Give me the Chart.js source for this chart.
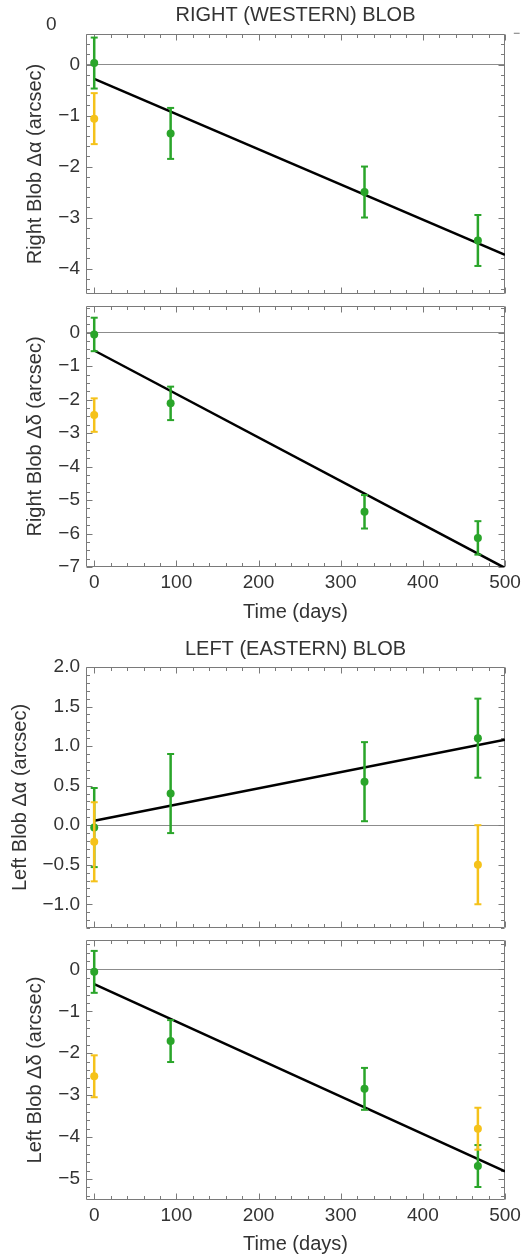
<!DOCTYPE html>
<html>
<head>
<meta charset="utf-8">
<script src="https://cdn.jsdelivr.net/npm/chart.js@4"></script>
<style>
  html, body { margin: 0; padding: 0; background: #fff; }
  #wrap { position: relative; width: 527px; height: 1258px; overflow: hidden; }
  canvas { position: absolute; left: 0; }
  .stray { position: absolute; font-family: "Liberation Sans", Arial, sans-serif; color: #333; }
</style>
</head>
<body>
<div id="wrap">
  <canvas id="c1" width="527" height="300" style="top:0px"></canvas>
  <canvas id="c2" width="527" height="330" style="top:300px"></canvas>
  <canvas id="c3" width="527" height="304" style="top:630px"></canvas>
  <canvas id="c4" width="527" height="324" style="top:934px"></canvas>
  <span class="stray" style="left:46px;top:13px;font-size:19px;">0</span>
  <span class="stray" style="left:513px;top:26px;font-size:12px;color:#666;">−</span>
</div>
<script>
// ---------------- data ----------------
const greenDays  = [0, 93, 329, 467];
const yellowDaysRight = [0];
const yellowDaysLeft  = [0, 467];
const fitDays = [0, 500];
const xTickValues = [0, 100, 200, 300, 400, 500];

// Right (western) blob, Δα
const rightAlphaGreen = [0.03, -1.35, -2.50, -3.45];
const rightAlphaGreenErr = [0.5, 0.5, 0.5, 0.5];
const rightAlphaYellow = [-1.06];
const rightAlphaYellowErr = [0.5];
const rightAlphaFit = [-0.28, -3.73];
const rightAlphaTicks = [0, -1, -2, -3, -4];

// Right (western) blob, Δδ
const rightDeltaGreen = [-0.05, -2.11, -5.35, -6.13];
const rightDeltaGreenErr = [0.5, 0.5, 0.5, 0.5];
const rightDeltaYellow = [-2.46];
const rightDeltaYellowErr = [0.5];
const rightDeltaFit = [-0.53, -7.03];
const rightDeltaTicks = [0, -1, -2, -3, -4, -5, -6, -7];

// Left (eastern) blob, Δα
const leftAlphaGreen = [-0.03, 0.40, 0.55, 1.10];
const leftAlphaGreenErr = [0.5, 0.5, 0.5, 0.5];
const leftAlphaYellow = [-0.21, -0.50];
const leftAlphaYellowErr = [0.5, 0.5];
const leftAlphaFit = [0.055, 1.08];
const leftAlphaTicks = [2.0, 1.5, 1.0, 0.5, 0.0, -0.5, -1.0];

// Left (eastern) blob, Δδ
const leftDeltaGreen = [-0.06, -1.71, -2.85, -4.69];
const leftDeltaGreenErr = [0.5, 0.5, 0.5, 0.5];
const leftDeltaYellow = [-2.55, -3.80];
const leftDeltaYellowErr = [0.5, 0.5];
const leftDeltaFit = [-0.35, -4.82];
const leftDeltaTicks = [0, -1, -2, -3, -4, -5];

// ---------------- style ----------------
const GREEN = '#2aa52a';
const YELLOW = '#f5c21a';
const TEXT = '#333333';
const FRAME = '#7a7a7a';
const FONT = '"Liberation Sans", Arial, Helvetica, sans-serif';

function pts(xs, ys) { return xs.map((x, i) => ({ x: x, y: ys[i] })); }
function errPts(xs, ys, es) {
  const out = [];
  xs.forEach((x, i) => {
    out.push({ x: x, y: ys[i] - es[i] });
    out.push({ x: x, y: ys[i] + es[i] });
    out.push({ x: x, y: null });
  });
  return out;
}
function fmt(decimals) {
  return v => (decimals ? Number(v).toFixed(decimals) : String(Math.round(v))).replace('-', '\u2212');
}

const frameTicks = {
  id: 'frameTicks',
  beforeDatasetsDraw(chart, args, o) {
    const { ctx, chartArea: a, scales: { x, y } } = chart;
    ctx.save();
    ctx.strokeStyle = FRAME;
    ctx.lineWidth = 1;
    const L = Math.round(a.left) + 0.5, R = Math.round(a.right) - 0.5;
    const T = Math.round(a.top) + 0.5, B = Math.round(a.bottom) - 0.5;
    const xt = (v, len) => {
      const p = Math.round(x.getPixelForValue(v)) + 0.5;
      ctx.moveTo(p, B); ctx.lineTo(p, B - len);
      ctx.moveTo(p, T); ctx.lineTo(p, T + len);
    };
    const yt = (v, len) => {
      const p = Math.round(y.getPixelForValue(v)) + 0.5;
      ctx.moveTo(L, p); ctx.lineTo(L + len, p);
      ctx.moveTo(R, p); ctx.lineTo(R - len, p);
    };
    ctx.beginPath();
    const m0 = Math.ceil(x.min / o.xMinor - 1e-6), m1 = Math.floor(x.max / o.xMinor + 1e-6);
    for (let k = m0; k <= m1; k++) {
      const v = k * o.xMinor;
      const isMajor = Math.abs(v / o.xMajor - Math.round(v / o.xMajor)) < 1e-6;
      xt(v, isMajor ? 6 : 3.5);
    }
    const n0 = Math.ceil(y.min / o.yMinor - 1e-6), n1 = Math.floor(y.max / o.yMinor + 1e-6);
    for (let k = n0; k <= n1; k++) {
      const v = k * o.yMinor;
      const isMajor = Math.abs(v / o.yMajor - Math.round(v / o.yMajor)) < 1e-6;
      yt(v, isMajor ? 6 : 3.5);
    }
    ctx.stroke();
    ctx.beginPath();
    ctx.rect(L, T, R - L, B - T);
    ctx.stroke();
    ctx.restore();
  }
};

function makeChart(id, c) {
  const datasets = [
    { label: 'yellow', data: pts(c.yDays, c.yVals), pointRadius: 4, pointBackgroundColor: YELLOW, pointBorderWidth: 0, showLine: false, order: 1 },
    { label: 'yellowErr', data: errPts(c.yDays, c.yVals, c.yErr), showLine: true, borderColor: YELLOW, borderWidth: 2.5, pointStyle: 'line', pointRadius: 3.5, pointBorderColor: YELLOW, pointBorderWidth: 2, spanGaps: false, order: 2 },
    { label: 'green', data: pts(greenDays, c.gVals), pointRadius: 4, pointBackgroundColor: GREEN, pointBorderWidth: 0, showLine: false, order: 3 },
    { label: 'greenErr', data: errPts(greenDays, c.gVals, c.gErr), showLine: true, borderColor: GREEN, borderWidth: 2.5, pointStyle: 'line', pointRadius: 3.5, pointBorderColor: GREEN, pointBorderWidth: 2, spanGaps: false, order: 4 },
    { label: 'fit', data: pts(fitDays, c.fit), showLine: true, borderColor: '#000', borderWidth: 2.5, pointRadius: 0, order: 5 }
  ];
  const plugins = {
    legend: { display: false },
    tooltip: { enabled: false },
    frameTicks: { xMajor: 100, xMinor: 20, yMajor: c.yMajor, yMinor: c.yMinor },
    title: c.title ? {
      display: true, text: c.title, fullSize: false, color: TEXT,
      font: { family: FONT, size: 20, weight: 'normal' },
      padding: { top: c.titlePad[0], bottom: c.titlePad[1] }
    } : { display: false }
  };
  return new Chart(document.getElementById(id), {
    type: 'scatter',
    data: { datasets: datasets },
    plugins: [frameTicks],
    options: {
      responsive: false,
      animation: false,
      devicePixelRatio: 1,
      events: [],
      layout: { padding: { left: 0, right: 22, top: c.padTop, bottom: 0 } },
      plugins: plugins,
      scales: {
        x: {
          type: 'linear', min: -10, max: 500,
          afterBuildTicks: s => { s.ticks = xTickValues.map(v => ({ value: v })); },
          ticks: { display: c.showX, padding: 4, color: TEXT, font: { family: FONT, size: 19 }, callback: fmt(0), maxRotation: 0, autoSkip: false },
          grid: { display: false, drawTicks: false },
          border: { display: false },
          title: { display: c.showX, text: 'Time (days)', color: TEXT, font: { family: FONT, size: 20 }, padding: { top: 0, bottom: c.xTitlePad } },
          afterFit: s => { s.height = c.xHeight; s.paddingLeft = 0; s.paddingRight = 0; }
        },
        y: {
          type: 'linear', min: c.yMin, max: c.yMax,
          afterBuildTicks: s => { s.ticks = c.yTicks.map(v => ({ value: v })); },
          ticks: { padding: 6, color: TEXT, font: { family: FONT, size: 19 }, callback: fmt(c.dec), autoSkip: false },
          grid: { drawTicks: false, lineWidth: 1, color: ctx => (ctx.tick && Math.abs(ctx.tick.value) < 1e-9) ? '#8c8c8c' : 'rgba(0,0,0,0)' },
          border: { display: false },
          title: { display: true, text: c.yTitle, color: TEXT, font: { family: FONT, size: 20 }, padding: { top: c.yTitlePad, bottom: 0 } },
          afterFit: s => { s.width = 86; s.paddingTop = 0; s.paddingBottom = 0; }
        }
      }
    }
  });
}

makeChart('c1', {
  title: 'RIGHT (WESTERN) BLOB', titlePad: [3.5, 6.5], padTop: 0,
  yDays: yellowDaysRight, yVals: rightAlphaYellow, yErr: rightAlphaYellowErr,
  gVals: rightAlphaGreen, gErr: rightAlphaGreenErr, fit: rightAlphaFit,
  yMin: -4.5, yMax: 0.6, yTicks: rightAlphaTicks, yMajor: 1, yMinor: 0.2, dec: 0,
  yTitle: 'Right Blob \u0394\u03b1 (arcsec)', yTitlePad: 23,
  showX: false, xHeight: 5, xTitlePad: 0
});
makeChart('c2', {
  title: null, padTop: 6,
  yDays: yellowDaysRight, yVals: rightDeltaYellow, yErr: rightDeltaYellowErr,
  gVals: rightDeltaGreen, gErr: rightDeltaGreenErr, fit: rightDeltaFit,
  yMin: -7, yMax: 0.8, yTicks: rightDeltaTicks, yMajor: 1, yMinor: 0.25, dec: 0,
  yTitle: 'Right Blob \u0394\u03b4 (arcsec)', yTitlePad: 23.5,
  showX: true, xHeight: 63, xTitlePad: 6
});
makeChart('c3', {
  title: 'LEFT (EASTERN) BLOB', titlePad: [7, 6], padTop: 0,
  yDays: yellowDaysLeft, yVals: leftAlphaYellow, yErr: leftAlphaYellowErr,
  gVals: leftAlphaGreen, gErr: leftAlphaGreenErr, fit: leftAlphaFit,
  yMin: -1.3, yMax: 2.0, yTicks: leftAlphaTicks, yMajor: 0.5, yMinor: 0.1, dec: 1,
  yTitle: 'Left Blob \u0394\u03b1 (arcsec)', yTitlePad: 8,
  showX: false, xHeight: 5, xTitlePad: 0
});
makeChart('c4', {
  title: null, padTop: 5,
  yDays: yellowDaysLeft, yVals: leftDeltaYellow, yErr: leftDeltaYellowErr,
  gVals: leftDeltaGreen, gErr: leftDeltaGreenErr, fit: leftDeltaFit,
  yMin: -5.5, yMax: 0.7, yTicks: leftDeltaTicks, yMajor: 1, yMinor: 0.2, dec: 0,
  yTitle: 'Left Blob \u0394\u03b4 (arcsec)', yTitlePad: 23.5,
  showX: true, xHeight: 58, xTitlePad: 2
});
</script>
</body>
</html>
